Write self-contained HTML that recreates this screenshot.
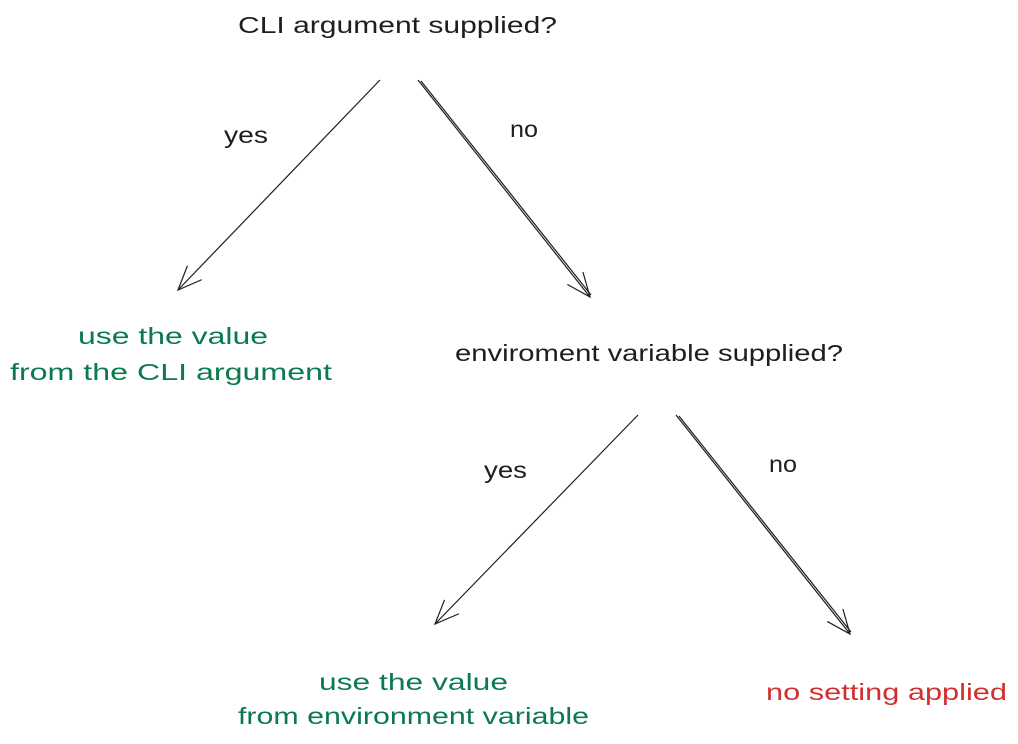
<!DOCTYPE html>
<html><head><meta charset="utf-8"><style>
html,body{margin:0;padding:0;background:#fff;}
svg{display:block;}
text{font-family:"Liberation Sans",sans-serif;font-size:23px;}
</style></head><body>
<svg width="1018" height="744" viewBox="0 0 1018 744" xmlns="http://www.w3.org/2000/svg">
<defs>
<marker id="a" markerWidth="30" markerHeight="30" refX="24" refY="12" orient="auto" markerUnits="userSpaceOnUse">
<path d="M0,2 L24,12 L0,22" fill="none" stroke="#1e1e1e" stroke-width="1.2"/>
</marker>
</defs>
<text x="238" y="33" textLength="319" lengthAdjust="spacingAndGlyphs" fill="#1e1e1e">CLI argument supplied?</text>
<text x="224" y="143" textLength="44" lengthAdjust="spacingAndGlyphs" fill="#1e1e1e">yes</text>
<text x="510" y="137" textLength="28" lengthAdjust="spacingAndGlyphs" fill="#1e1e1e">no</text>
<text x="78" y="344" textLength="190" lengthAdjust="spacingAndGlyphs" fill="#0b7a4e">use the value</text>
<text x="10" y="380" textLength="322" lengthAdjust="spacingAndGlyphs" fill="#0b7a4e">from the CLI argument</text>
<text x="455" y="361" textLength="388" lengthAdjust="spacingAndGlyphs" fill="#1e1e1e">enviroment variable supplied?</text>
<text x="484" y="478" textLength="43" lengthAdjust="spacingAndGlyphs" fill="#1e1e1e">yes</text>
<text x="769" y="472" textLength="28" lengthAdjust="spacingAndGlyphs" fill="#1e1e1e">no</text>
<text x="319" y="690" textLength="189" lengthAdjust="spacingAndGlyphs" fill="#0b7a4e">use the value</text>
<text x="238" y="724" textLength="351" lengthAdjust="spacingAndGlyphs" fill="#0b7a4e">from environment variable</text>
<text x="766" y="700" textLength="241" lengthAdjust="spacingAndGlyphs" fill="#d03030">no setting applied</text>
<g stroke="#1e1e1e" stroke-width="1.2" fill="none">
<line x1="380" y1="80" x2="178" y2="290" marker-end="url(#a)"/>
<line x1="418" y1="80" x2="590" y2="297" marker-end="url(#a)"/>
<line x1="421" y1="81" x2="591" y2="295"/>
<line x1="638" y1="415" x2="435" y2="624" marker-end="url(#a)"/>
<line x1="676" y1="415" x2="850" y2="634" marker-end="url(#a)"/>
<line x1="679" y1="416" x2="851" y2="632"/>
</g>
</svg>
</body></html>
